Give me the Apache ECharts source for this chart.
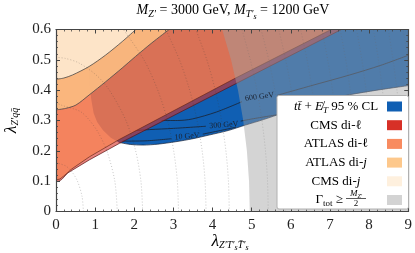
<!DOCTYPE html>
<html><head><meta charset="utf-8">
<script src="https://cdn.jsdelivr.net/npm/echarts@6/dist/echarts.min.js"></script>
<style>html,body{margin:0;padding:0;background:#fff}#c{width:415px;height:253px}</style>
</head><body><div id="c"></div>
<script>
// ---------- data ----------
const xRange = [0, 9];
const yRange = [0, 0.6];
// tt+MET 95% CL exclusion: lower/left boundary (region lies above/right)
const blueEdge = [[0.84,0.6],[0.84,0.48],[0.86,0.42],[0.9,0.37],[0.96,0.325],[1.05,0.295],[1.2,0.268],[1.4,0.243],[1.6,0.228],[1.9,0.221],[2.22,0.219],[2.6,0.222],[3.06,0.23],[3.5,0.24],[3.91,0.252],[4.4,0.267],[4.84,0.285],[5.3,0.303],[5.8,0.325],[6.3,0.348],[6.9,0.37],[7.5,0.385],[8.2,0.4],[9,0.415]];
// CMS di-lepton boundary (region above)
const cmsLepEdge = [[0,0.098],[0.08,0.1],[0.15,0.106],[0.3,0.127],[0.85,0.17],[1.625,0.225],[4.59,0.421],[7.29,0.6]];
// ATLAS di-lepton boundary
const atlasLepEdge = [[0,0.104],[0.1,0.107],[0.2,0.117],[0.4,0.14],[0.85,0.18],[1.625,0.238],[4.59,0.44],[7.03,0.6]];
// ATLAS di-jet boundary
const atlasJetEdge = [[0,0.335],[0.25,0.34],[0.51,0.351],[0.845,0.384],[1.27,0.428],[1.69,0.473],[2.03,0.511],[2.45,0.556],[2.89,0.6]];
// CMS di-jet boundary
const cmsJetEdge = [[0,0.436],[0.2,0.44],[0.42,0.45],[0.845,0.478],[1.27,0.516],[1.69,0.56],[2.04,0.6]];
// Gamma_tot >= M/2 boundary (region to the right)
const gammaEdge = [[4.95,0],[4.932,0.1],[4.877,0.2],[4.783,0.3],[4.65,0.4],[4.472,0.5],[4.245,0.6]];
// mass-splitting contours (segments split around their labels)
const c10a = [[1.7,0.232],[2.3,0.233],[2.95,0.24]];
const c10b = [[3.75,0.255],[4.2,0.267],[4.6,0.278]];
const c300a = [[1.95,0.266],[2.39,0.27],[3.0,0.274],[3.83,0.281]];
const c300b = [[4.72,0.298],[5.0,0.305],[5.7,0.32]];
const c600a = [[2.7,0.3],[3.1,0.3],[3.48,0.305],[4.1,0.328],[4.75,0.362]];
const c600b = [[5.65,0.383],[6.5,0.414],[7.5,0.45],[8.3,0.482],[9,0.515]];
const contourLabelPos = [[3.35,0.2475],[4.29,0.285],[5.2,0.378]];
const contourLabelText = ['10 GeV','300 GeV','600 GeV'];
const contourLabelRot = [0.09, 0.08, 0.12];
// width/mass dotted contours
const widthArcs = [
  [[0.70,0],[0.665,0.05],[0.548,0.1],[0.411,0.13],[0.25,0.15],[0,0.161]],
  [[1.565,0],[1.503,0.1],[1.30,0.2],[1.08,0.26],[0.86,0.3],[0.617,0.33],[0.15,0.35],[0,0.359]],
  [[2.214,0],[2.17,0.1],[2.035,0.2],[1.786,0.3],[1.364,0.4],[1.026,0.45],[0.58,0.49],[0.23,0.505],[0,0.508]],
  [[3.13,0],[3.10,0.1],[3.007,0.2],[2.85,0.3],[2.6,0.4],[2.247,0.5],[1.72,0.6]],
  [[3.834,0],[3.809,0.1],[3.734,0.2],[3.604,0.3],[3.415,0.4],[3.154,0.5],[2.804,0.6]],
  [[4.427,0],[4.406,0.1],[4.341,0.2],[4.23,0.3],[4.069,0.4],[3.854,0.5],[3.572,0.6]],
  [[5.422,0],[5.405,0.1],[5.352,0.2],[5.262,0.3],[5.134,0.4],[4.965,0.5],[4.75,0.6]],
  [[5.857,0],[5.84,0.1],[5.791,0.2],[5.709,0.3],[5.591,0.4],[5.436,0.5],[5.24,0.6]],
  [[6.072,0.35],[6.013,0.4],[5.869,0.5],[5.69,0.6]],
  [[6.601,0.35],[6.547,0.4],[6.415,0.5],[6.25,0.6]],
  [[7.114,0.35],[7.064,0.4],[6.942,0.5],[6.79,0.6]],
  [[7.565,0.35],[7.517,0.4],[7.403,0.5],[7.26,0.6]],
  [[7.968,0.35],[7.923,0.4],[7.815,0.5],[7.68,0.6]],
  [[8.383,0.35],[8.341,0.4],[8.238,0.5],[8.11,0.6]],
  [[8.752,0.35],[8.711,0.4],[8.612,0.5],[8.49,0.6]],
  [[9.0,0.475],[8.987,0.5],[8.87,0.6]]
];
const legendLabels = [
  '{i|t}{i|t\u0304}{n| + }{i|E\u0338}{s|T}{n| 95 % CL}',
  '{n|CMS di-\u2113}',
  '{n|ATLAS di-\u2113}',
  '{n|ATLAS di-}{i|j}',
  '{n|CMS di-}{i|j}',
  ''
];
const legendColors = ['#105fb3','#d73027','#f88b60','#fdc88c','#fef0de','#d3d3d3'];

// ---------- helpers ----------
const SERIF = '"Liberation Serif","DejaVu Serif",serif';
function richSet(b) {
  return {
    n: {fontFamily: SERIF, fontSize: b, color: '#111'},
    i: {fontFamily: SERIF, fontSize: b, fontStyle: 'italic', color: '#111'},
    l: {fontFamily: SERIF, fontSize: b * 1.25, fontStyle: 'italic', color: '#111'},
    s: {fontFamily: SERIF, fontSize: Math.round(b * 0.72), fontStyle: 'italic', color: '#111', padding: [Math.round(b * 0.62), 0, 0, 0]},
    r: {fontFamily: SERIF, fontSize: Math.round(b * 0.72), color: '#111', padding: [Math.round(b * 0.62), 0, 0, 0]},
    ss: {fontFamily: SERIF, fontSize: Math.round(b * 0.55), fontStyle: 'italic', color: '#111', padding: [Math.round(b * 1.0), 0, 0, 0]}
  };
}
function closeTop(edge) {
  return edge.concat([[xRange[0], yRange[1]]]);
}
function poly(points, color, z) {
  return {
    type: 'custom', coordinateSystem: 'cartesian2d', clip: true, silent: true, z: z,
    data: [points[0]],
    renderItem: function (params, api) {
      return {type: 'polygon', shape: {points: points.map(function (p) { return api.coord(p); })},
        style: {fill: color, stroke: null}};
    }
  };
}
function line(points, color, width, type, z, smooth) {
  return {
    type: 'line', data: points, showSymbol: false, symbol: 'none', silent: true, z: z,
    smooth: smooth || false, clip: true, animation: false,
    lineStyle: {color: color, width: width, type: type || 'solid'}
  };
}

const series = [];
series.push(poly(blueEdge.concat([[9, 0.6]]), '#105fb3', 1));
[c10a, c10b, c300a, c300b, c600a, c600b].forEach(function (c) { series.push(line(c, '#1b2230', 0.8, 'solid', 2, 0.3)); });
series.push(line(blueEdge.slice(8), '#18243a', 0.7, 'solid', 2, 0.3));
series.push(poly(closeTop(cmsLepEdge), 'rgba(215,48,39,0.6)', 3));
series.push(line(cmsLepEdge, '#5a1616', 0.7, 'solid', 4));
series.push(poly(closeTop(atlasLepEdge), 'rgba(249,132,83,0.72)', 5));
series.push(line(atlasLepEdge, '#6a2a1a', 0.7, 'solid', 6));
series.push(poly(closeTop(atlasJetEdge), 'rgba(250,186,128,0.93)', 7));
series.push(line(atlasJetEdge, '#4a4a4a', 0.8, 'solid', 8, 0.3));
series.push(poly(closeTop(cmsJetEdge), 'rgba(253,231,205,0.93)', 9));
series.push(line(cmsJetEdge, '#4a4a4a', 0.8, 'solid', 10, 0.3));
widthArcs.forEach(function (a) { series.push(line(a, 'rgba(60,60,60,0.4)', 0.7, [1, 2], 11, 0.3)); });
series.push(poly(gammaEdge.concat([[9, 0.6], [9, 0]]), 'rgba(160,160,160,0.45)', 12));
series.push({
  type: 'custom', coordinateSystem: 'cartesian2d', silent: true, z: 13, clip: true,
  data: contourLabelPos,
  renderItem: function (params, api) {
    const p = api.coord([api.value(0), api.value(1)]);
    return {type: 'text', x: p[0], y: p[1], rotation: contourLabelRot[params.dataIndex],
      style: {text: contourLabelText[params.dataIndex], fill: '#1b2230', font: '8px ' + SERIF, align: 'center', verticalAlign: 'middle'}};
  }
});

function mkX(pos, showLabel) {
  return {
    type: 'value', min: xRange[0], max: xRange[1], interval: 1, position: pos, z: 50,
    axisLine: {show: true, onZero: false, lineStyle: {color: '#444', width: 1.2}},
    axisTick: {show: true, inside: true, length: 4, lineStyle: {color: '#444', width: 1}},
    minorTick: {show: true, splitNumber: 5, length: 2, lineStyle: {color: '#444', width: 0.8}},
    axisLabel: {show: showLabel, fontFamily: SERIF, fontSize: 15, color: '#222', margin: 6},
    splitLine: {show: false}, minorSplitLine: {show: false}
  };
}
function mkY(pos, showLabel) {
  return {
    type: 'value', min: yRange[0], max: yRange[1], interval: 0.1, position: pos, z: 50,
    axisLine: {show: true, onZero: false, lineStyle: {color: '#444', width: 1.2}},
    axisTick: {show: true, inside: true, length: 4, lineStyle: {color: '#444', width: 1}},
    minorTick: {show: true, splitNumber: 5, length: 2, lineStyle: {color: '#444', width: 0.8}},
    axisLabel: {show: showLabel, fontFamily: SERIF, fontSize: 15, color: '#222', margin: 5,
      formatter: function (v) { return v === 0 ? '0' : v.toFixed(1); }},
    splitLine: {show: false}, minorSplitLine: {show: false}
  };
}

const graphics = [];
graphics.push({type: 'text', x: 233, y: 10, z: 100,
  style: {text: '{i|M}{s|Z\u2032}{n| = 3000 GeV, }{i|M}{s|T\u2032}{ss|s}{n| = 1200 GeV}', rich: richSet(14), align: 'center', verticalAlign: 'middle'}});
graphics.push({type: 'text', x: 11, y: 120.5, rotation: Math.PI / 2, z: 100,
  style: {text: '{l|\u03bb}{s|Z\u2032qq\u0304}', rich: richSet(14), align: 'center', verticalAlign: 'middle'}});
graphics.push({type: 'text', x: 230, y: 241, z: 100,
  style: {text: '{l|\u03bb}{s|Z\u2032T\u2032}{ss|s}{s|T\u0304\u2032}{ss|s}', rich: richSet(14), align: 'center', verticalAlign: 'middle'}});
// legend
graphics.push({type: 'rect', z: 100, shape: {x: 277, y: 95.5, width: 131.5, height: 113.5, r: 2},
  style: {fill: '#fff', stroke: '#b0b0b0', lineWidth: 1}});
const rowY = [106.5, 125.2, 143.9, 162.6, 181.3, 200];
for (let k = 0; k < 6; k++) {
  graphics.push({type: 'rect', z: 101, shape: {x: 387, y: rowY[k] - 5, width: 15, height: 10},
    style: {fill: legendColors[k]}});
  if (legendLabels[k]) {
    graphics.push({type: 'text', x: 336, y: rowY[k], z: 101,
      style: {text: legendLabels[k], rich: richSet(13), align: 'center', verticalAlign: 'middle'}});
  }
}
graphics.push({type: 'text', x: 343, y: 200, z: 101,
  style: {text: '{n|\u0393}{r|tot}{n| \u2265}', rich: richSet(13), align: 'right', verticalAlign: 'middle'}});
graphics.push({type: 'text', x: 356, y: 193.5, z: 101,
  style: {text: '{i|M}{s|Z\u2032}', rich: richSet(9), align: 'center', verticalAlign: 'middle'}});
graphics.push({type: 'line', z: 101, shape: {x1: 346, y1: 198.5, x2: 366, y2: 198.5}, style: {stroke: '#111', lineWidth: 0.7}});
graphics.push({type: 'text', x: 356, y: 204, z: 101,
  style: {text: '2', font: '9px ' + SERIF, fill: '#111', align: 'center', verticalAlign: 'middle'}});

const chart = echarts.init(document.getElementById('c'), null, {renderer: 'canvas'});
chart.setOption({
  animation: false,
  grid: {left: 56, right: 4.5, top: 29.5, bottom: 41.5, show: false},
  xAxis: [mkX('bottom', true), mkX('top', false)],
  yAxis: [mkY('left', true), mkY('right', false)],
  series: series,
  graphic: graphics
});
</script></body></html>
